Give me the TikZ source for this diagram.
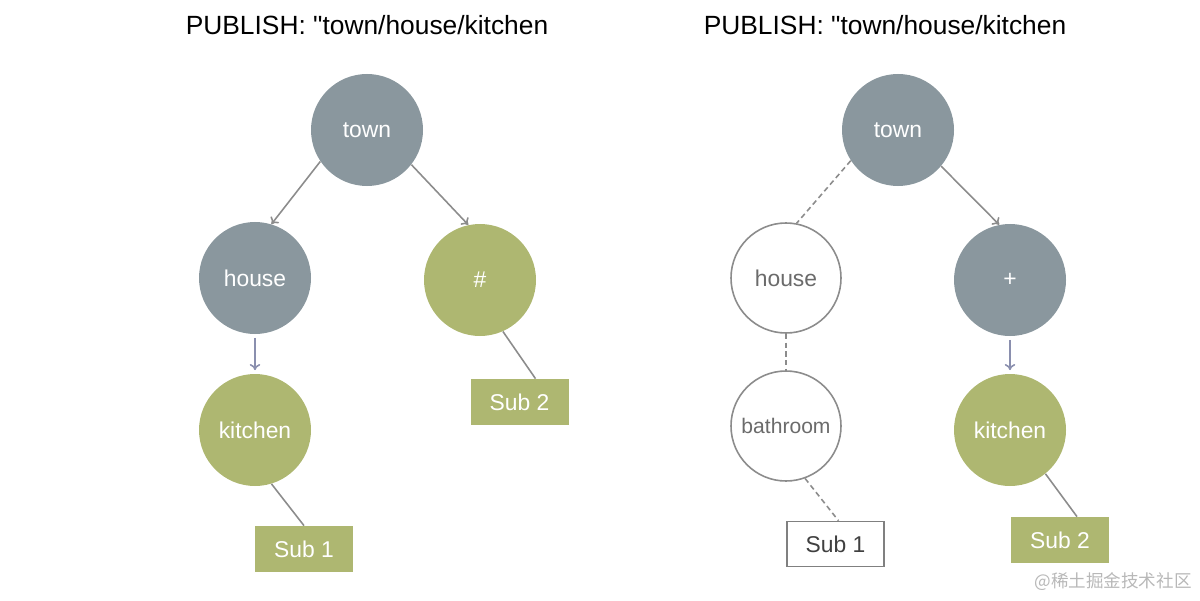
\documentclass[tikz,border=0pt]{standalone}
\usepackage{fontspec}
\setmainfont{Liberation Sans}[Ligatures=TeXOff]
\newfontfamily\cjkfont{Noto Sans CJK SC}
\usepackage{tikz}
\usetikzlibrary{arrows.meta}

\definecolor{nodegray}{HTML}{8A979E}
\definecolor{nodeolive}{HTML}{AEB771}
\definecolor{linegray}{HTML}{8C8C8C}
\definecolor{linebluegray}{HTML}{8A8FAE}

\begin{document}
\begin{tikzpicture}[scale=0.2]
\tikzstyle{every node}+=[inner sep=0pt]
\tikzstyle{graynode}=[circle, fill=nodegray, text=white, minimum size=2.24cm, font=\fontsize{13}{15}\selectfont]
\tikzstyle{olivenode}=[circle, fill=nodeolive, text=white, minimum size=2.24cm, font=\fontsize{13}{15}\selectfont]
\tikzstyle{blanknode}=[circle, draw=linegray, line width=0.9pt, fill=white, text=black!58, minimum size=2.2cm, font=\fontsize{13}{15}\selectfont]
\tikzstyle{olivebox}=[rectangle, fill=nodeolive, text=white, minimum width=1.96cm, minimum height=0.92cm, font=\fontsize{13}{15}\selectfont]
\tikzstyle{blankbox}=[rectangle, draw=black!50, line width=0.9pt, fill=white, text=black!75, minimum width=1.94cm, minimum height=0.9cm, font=\fontsize{13}{15}\selectfont]
\tikzstyle{arr}=[-{To[length=3.5pt,width=6pt]}, linegray, line width=0.9pt]
\tikzstyle{arrdown}=[-{To[length=3.5pt,width=6pt]}, linebluegray, line width=0.9pt, shorten <=2pt, shorten >=2pt]
\tikzstyle{link}=[linegray, line width=0.9pt]
\tikzstyle{dashlink}=[linegray, line width=0.9pt, dash pattern=on 3pt off 2pt]
\tikzstyle{title}=[font=\fontsize{15}{18}\selectfont]
\useasboundingbox (0,0) rectangle (120,-60);
% left tree
\node [title] (ltitle) at (36.7,-2.5) {PUBLISH: "town/house/kitchen};
\node [graynode] (ltown) at (36.7,-13) {town};
\node [graynode] (lhouse) at (25.5,-27.8) {house};
\node [olivenode] (lhash) at (48,-28) {\#};
\node [olivenode] (lkitchen) at (25.5,-43) {kitchen};
\node [olivebox] (lsub1) at (30.4,-54.9) {Sub 1};
\node [olivebox] (lsub2) at (51.95,-40.2) {Sub 2};
\draw [arr] (ltown.214) -- (lhouse.73);
\draw [arr] (ltown.322) -- (lhash.102);
\draw [arrdown] (lhouse.south) -- (lkitchen.north);
\draw [link] (lhash.294) -- ([xshift=1.6cm]lsub2.north);
\draw [link] (lkitchen.287) -- (lsub1.north);
% right tree
\node [title] (rtitle) at (88.5,-2.5) {PUBLISH: "town/house/kitchen};
\node [graynode] (rtown) at (89.8,-13) {town};
\node [blanknode] (rhouse) at (78.6,-27.8) {house};
\node [graynode] (rplus) at (101,-28) {+};
\node [blanknode, font=\fontsize{12}{14}\selectfont] (rbath) at (78.6,-42.6) {bathroom};
\node [olivenode] (rkitchen) at (101,-43) {kitchen};
\node [blankbox] (rsub1) at (83.55,-54.4) {Sub 1};
\node [olivebox] (rsub2) at (106,-54) {Sub 2};
\draw [dashlink] (rtown.213) -- (rhouse.79);
\draw [arr] (rtown.320) -- (rplus.101);
\draw [dashlink] (rhouse.south) -- (rbath.north);
\draw [arrdown] (rplus.south) -- (rkitchen.north);
\draw [dashlink] (rbath.290) -- ([xshift=0.3cm]rsub1.north);
\draw [link] (rkitchen.309) -- ([xshift=1.7cm]rsub2.north);
% watermark
\node [text=black!28, font=\cjkfont\fontsize{10}{12}\selectfont] (mark) at (111.3,-58.2) {@稀土掘金技术社区};
\end{tikzpicture}
\end{document}
